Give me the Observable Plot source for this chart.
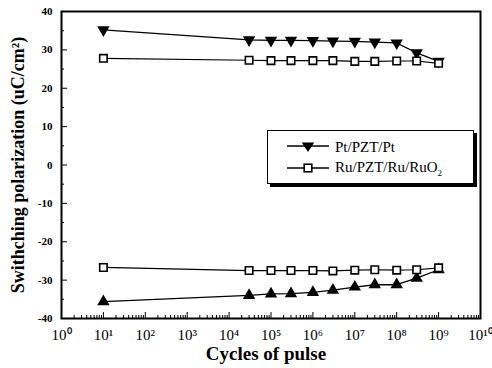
<!DOCTYPE html>
<html>
<head>
<meta charset="utf-8">
<script src="https://cdn.jsdelivr.net/npm/d3@7"></script>
<script src="https://cdn.jsdelivr.net/npm/@observablehq/plot@0.6"></script>
<style>
  html, body { margin: 0; padding: 0; background: #fff; }
  #wrap { position: relative; width: 492px; height: 368px; }
  svg { font-family: "Liberation Serif", "Times New Roman", serif; }
  g[aria-label="x-axis tick label"] text { font-size: 15px; }
  g[aria-label="y-axis tick label"] text { font-size: 11px; font-weight: bold; }
  #legend {
    position: absolute; left: 267px; top: 130px; width: 205px; height: 52px;
    border: 1px solid #000; background: #fff; box-shadow: 3px 3px 0 #000;
    font-family: "Liberation Serif", "Times New Roman", serif; font-size: 15px; color: #000;
  }
  .row { position: absolute; left: 19px; height: 20px; display: flex; align-items: center; }
  .row svg { display: block; }
  .row span { margin-left: 6px; white-space: nowrap; }
</style>
</head>
<body>
<div id="wrap"></div>
<script>
// Data
const cycles = [10, 3e4, 1e5, 3e5, 1e6, 3e6, 1e7, 3e7, 1e8, 3e8, 1e9];
const ptUpper = [35.2, 32.6, 32.5, 32.5, 32.4, 32.3, 32.2, 32.0, 31.8, 29.2, 27.0];
const ptLower = [-35.6, -34.0, -33.6, -33.5, -33.2, -32.6, -31.8, -31.2, -31.2, -29.5, -27.3];
const ruUpper = [27.8, 27.3, 27.2, 27.2, 27.2, 27.2, 27.0, 27.0, 27.1, 27.1, 26.5];
const ruLower = [-26.7, -27.5, -27.5, -27.5, -27.5, -27.6, -27.4, -27.3, -27.4, -27.3, -26.8];
const seriesNames = ["Pt/PZT/Pt", "Ru/PZT/Ru/RuO\u2082"];
const xMajor = [1, 10, 1e2, 1e3, 1e4, 1e5, 1e6, 1e7, 1e8, 1e9, 1e10];
const yMajor = [-40, -30, -20, -10, 0, 10, 20, 30, 40];
const yMinor = [-35, -25, -15, -5, 5, 15, 25, 35];
const xLabel = "Cycles of pulse";
const yLabel = "Swithching polarization (uC/cm\u00B2)";

const sup = {"0":"\u2070","1":"\u00B9","2":"\u00B2","3":"\u00B3","4":"\u2074","5":"\u2075","6":"\u2076","7":"\u2077","8":"\u2078","9":"\u2079"};
const fmtPow = d => "10" + String(Math.round(Math.log10(d))).split("").map(c => sup[c]).join("");
const xMinor = [];
for (let k = 0; k < 10; k++) for (let m = 2; m <= 9; m++) xMinor.push(m * Math.pow(10, k));

const mk = (ys) => cycles.map((c, i) => ({x: c, y: ys[i]}));
const pU = mk(ptUpper), pL = mk(ptLower), rU = mk(ruUpper), rL = mk(ruLower);

const chart = Plot.plot({
  width: 492, height: 368,
  marginLeft: 61, marginRight: 12, marginTop: 11, marginBottom: 50,
  x: {type: "log", domain: [1, 1e10]},
  y: {domain: [-40, 40]},
  marks: [
    Plot.axisX({ticks: xMinor, tickSize: -3, tickFormat: () => "", label: null}),
    Plot.axisX({ticks: xMajor, tickSize: -6, tickFormat: () => "", label: null}),
    Plot.axisX({ticks: xMajor, tickSize: 0, tickPadding: 11, tickFormat: fmtPow, label: null}),
    Plot.axisY({ticks: yMinor, tickSize: -3, tickFormat: () => "", label: null}),
    Plot.axisY({ticks: yMajor, tickSize: -6, tickFormat: () => "", label: null}),
    Plot.axisY({ticks: yMajor, tickSize: 0, tickPadding: 9, tickFormat: d => String(d), label: null}),
    Plot.line(pU, {x: "x", y: "y", stroke: "#000", strokeWidth: 1.3}),
    Plot.line(pL, {x: "x", y: "y", stroke: "#000", strokeWidth: 1.3}),
    Plot.line(rU, {x: "x", y: "y", stroke: "#000", strokeWidth: 1.2}),
    Plot.line(rL, {x: "x", y: "y", stroke: "#000", strokeWidth: 1.2}),
    Plot.dot(pU, {x: "x", y: "y", symbol: "triangle", rotate: 180, r: 4.6, fill: "#000", stroke: "none"}),
    Plot.dot(pL, {x: "x", y: "y", symbol: "triangle", r: 4.6, fill: "#000", stroke: "none"}),
    Plot.dot(rU, {x: "x", y: "y", symbol: "square", r: 4.2, fill: "#fff", stroke: "#000", strokeWidth: 1.6}),
    Plot.dot(rL, {x: "x", y: "y", symbol: "square", r: 4.2, fill: "#fff", stroke: "#000", strokeWidth: 1.6}),
    Plot.frame({stroke: "#000", strokeWidth: 2}),
    Plot.text([xLabel], {frameAnchor: "bottom", dy: 41, dx: -5, textAnchor: "middle", fontSize: 19, fontWeight: "bold", fill: "#000"}),
    Plot.text([yLabel], {frameAnchor: "left", dx: -43, textAnchor: "middle", rotate: -90, fontSize: 18, fontWeight: "bold", fill: "#000"})
  ]
});
const wrap = document.getElementById("wrap");
wrap.appendChild(chart);

// Legend
const legend = document.createElement("div");
legend.id = "legend";
legend.innerHTML = `
  <div class="row" style="top:6px"><svg width="42" height="16"><line x1="0" y1="7" x2="42" y2="7" stroke="#000" stroke-width="1.3"/><path d="M21,13 L14.8,3.5 L27.2,3.5 Z" fill="#000"/></svg><span>${seriesNames[0]}</span></div>
  <div class="row" style="top:27px"><svg width="42" height="16"><line x1="0" y1="8" x2="42" y2="8" stroke="#000" stroke-width="1.3"/><rect x="17.2" y="4.2" width="7.6" height="7.6" fill="#fff" stroke="#000" stroke-width="1.6"/></svg><span>Ru/PZT/Ru/RuO<sub style="font-size:9px">2</sub></span></div>`;
wrap.appendChild(legend);
</script>
</body>
</html>
